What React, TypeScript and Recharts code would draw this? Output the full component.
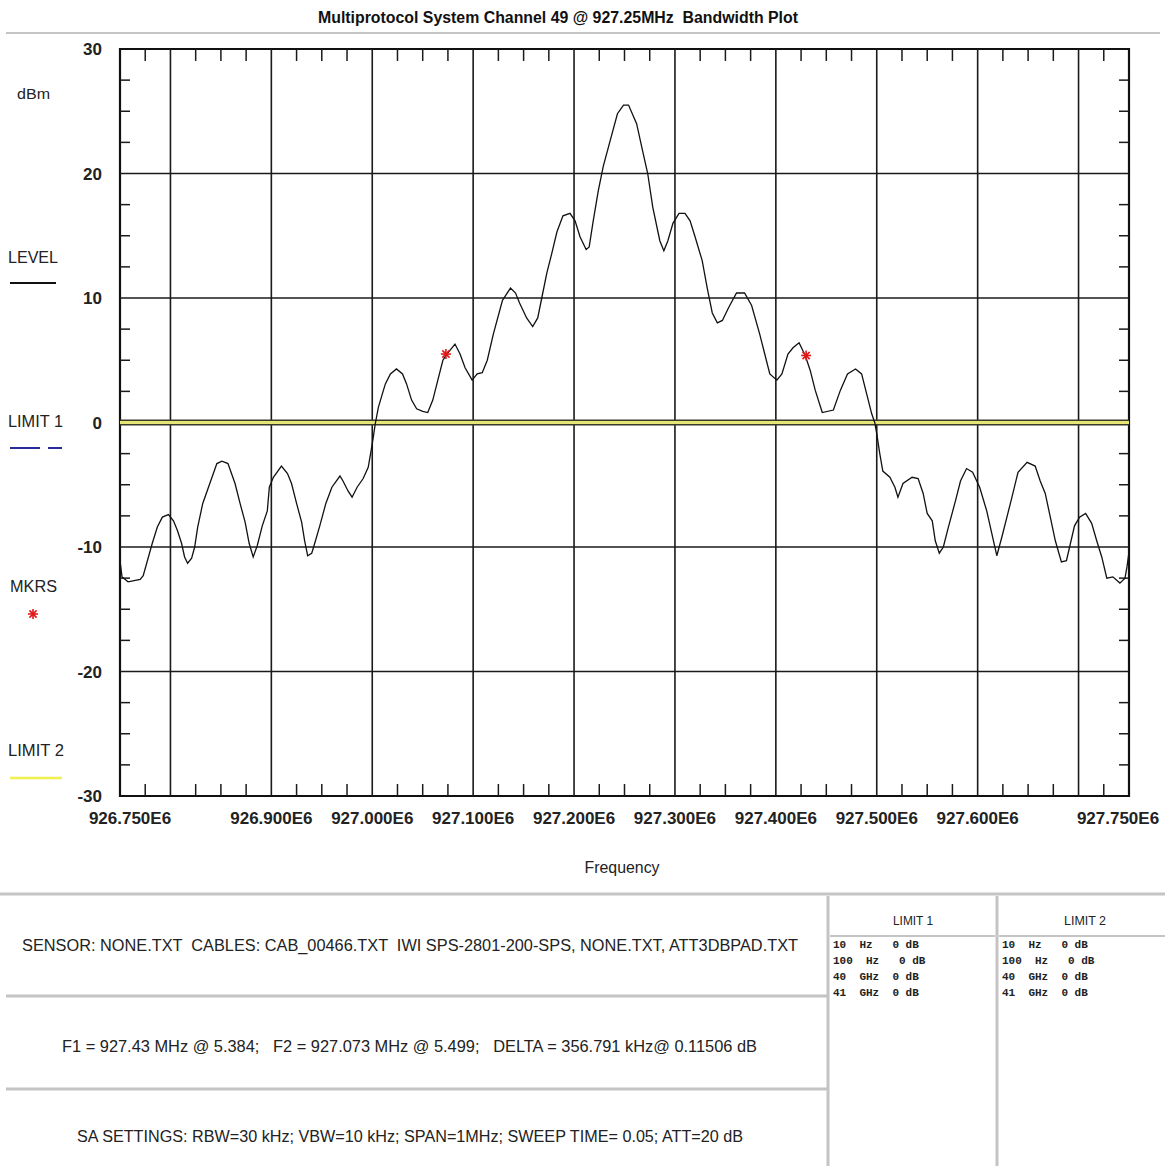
import React from "react";
import { ComposedChart, Line, XAxis, YAxis, ReferenceLine, ReferenceArea, ReferenceDot } from "recharts";

const freqMHz = [
  926.750, 926.752, 926.758, 926.770, 926.773, 926.782, 926.787, 926.792, 926.798, 926.803,
  926.807, 926.811, 926.814, 926.817, 926.821, 926.824, 926.827, 926.832, 926.839, 926.846,
  926.851, 926.857, 926.864, 926.869, 926.874, 926.878, 926.882, 926.886, 926.891, 926.896,
  926.898, 926.902, 926.910, 926.916, 926.920, 926.925, 926.930, 926.933, 926.936, 926.940,
  926.943, 926.948, 926.954, 926.960, 926.968, 926.971, 926.976, 926.980, 926.985, 926.991,
  926.996, 926.999, 927.001, 927.003, 927.006, 927.010, 927.013, 927.018, 927.024, 927.030,
  927.034, 927.039, 927.044, 927.050, 927.055, 927.060, 927.065, 927.070, 927.074, 927.082,
  927.087, 927.092, 927.099, 927.104, 927.109, 927.114, 927.120, 927.129, 927.137, 927.142,
  927.146, 927.153, 927.159, 927.164, 927.168, 927.173, 927.178, 927.183, 927.189, 927.196,
  927.201, 927.206, 927.212, 927.215, 927.219, 927.224, 927.229, 927.236, 927.243, 927.249,
  927.254, 927.262, 927.268, 927.273, 927.278, 927.285, 927.289, 927.293, 927.298, 927.304,
  927.310, 927.315, 927.320, 927.327, 927.332, 927.337, 927.342, 927.347, 927.353, 927.361,
  927.369, 927.376, 927.384, 927.389, 927.394, 927.401, 927.406, 927.412, 927.417, 927.423,
  927.429, 927.434, 927.439, 927.446, 927.457, 927.464, 927.471, 927.479, 927.485, 927.490,
  927.495, 927.498, 927.500, 927.503, 927.506, 927.513, 927.518, 927.521, 927.526, 927.535,
  927.541, 927.546, 927.550, 927.555, 927.558, 927.562, 927.566, 927.571, 927.578, 927.583,
  927.589, 927.595, 927.602, 927.609, 927.614, 927.619, 927.624, 927.629, 927.634, 927.640,
  927.649, 927.657, 927.662, 927.667, 927.672, 927.677, 927.683, 927.688, 927.692, 927.696,
  927.701, 927.707, 927.713, 927.718, 927.723, 927.728, 927.734, 927.741, 927.746, 927.748,
  927.750,
];

const levelDbm = [
  -11.1, -12.4, -12.8, -12.6, -12.3, -9.7, -8.4, -7.6, -7.4, -7.9,
  -8.7, -9.7, -10.8, -11.3, -10.9, -10.0, -8.4, -6.5, -4.9, -3.3,
  -3.1, -3.3, -4.9, -6.5, -8.0, -9.7, -10.8, -9.9, -8.3, -7.1,
  -5.2, -4.4, -3.5, -4.1, -4.9, -6.5, -8.0, -9.5, -10.7, -10.5,
  -9.7, -8.3, -6.5, -5.2, -4.3, -4.7, -5.5, -6.0, -5.2, -4.5,
  -3.6, -2.2, -1.2, -0.1, 1.2, 2.3, 3.1, 3.9, 4.3, 3.9,
  3.1, 1.8, 1.1, 0.9, 0.8, 1.8, 3.4, 5.0, 5.5, 6.3,
  5.5, 4.4, 3.4, 3.9, 4.0, 5.0, 7.1, 9.8, 10.8, 10.4,
  9.6, 8.4, 7.7, 8.4, 10.0, 12.0, 13.6, 15.3, 16.6, 16.8,
  16.2, 14.9, 13.9, 14.1, 16.2, 18.6, 20.6, 22.7, 24.8, 25.5,
  25.5, 24.0, 21.8, 20.0, 17.3, 14.6, 13.8, 14.6, 16.0, 16.8,
  16.8, 16.2, 14.9, 13.0, 10.8, 8.8, 8.0, 8.2, 9.2, 10.4,
  10.4, 9.4, 7.1, 5.5, 3.9, 3.4, 3.9, 5.5, 6.0, 6.4,
  5.4, 4.2, 2.6, 0.8, 1.0, 2.6, 3.9, 4.3, 3.9, 2.3,
  0.7, 0.0, -0.9, -2.5, -3.9, -4.4, -5.2, -6.0, -4.9, -4.4,
  -4.5, -5.7, -7.3, -7.9, -9.5, -10.5, -10.0, -8.4, -6.3, -4.7,
  -3.7, -4.0, -5.2, -7.1, -8.9, -10.7, -9.2, -7.6, -6.0, -4.0,
  -3.2, -3.5, -4.7, -5.7, -7.6, -9.5, -11.2, -11.1, -9.7, -8.3,
  -7.6, -7.3, -8.1, -9.5, -10.8, -12.5, -12.4, -12.9, -12.5, -11.6,
  -10.4,
];

const markerFreqs = [927.073, 927.43];
const markerLevels = [5.499, 5.384];

const xDomain = [926.75, 927.75];
const yDomain = [-30, 30];
const xLabelTicks = [926.75, 926.9, 927.0, 927.1, 927.2, 927.3, 927.4, 927.5, 927.6, 927.75];
const xGridLines = [926.8, 926.9, 927.0, 927.1, 927.2, 927.3, 927.4, 927.5, 927.6, 927.7];
const yLabelTicks = [-30, -20, -10, 0, 10, 20, 30];
const yGridLines = [-20, -10, 10, 20];
const xMinorTicks = [
  926.775, 926.825, 926.85, 926.875, 926.925, 926.95, 926.975, 927.025, 927.05, 927.075,
  927.125, 927.15, 927.175, 927.225, 927.25, 927.275, 927.325, 927.35, 927.375, 927.425,
  927.45, 927.475, 927.525, 927.55, 927.575, 927.625, 927.65, 927.675, 927.725,
];
const yMinorTicks = [
  -27.5, -25, -22.5, -17.5, -15, -12.5, -7.5, -5, -2.5, 2.5, 5, 7.5, 12.5, 15, 17.5, 22.5, 25, 27.5,
];
const limitRows = ["10  Hz   0 dB", "100  Hz   0 dB", "40  GHz  0 dB", "41  GHz  0 dB"];

const traceData = freqMHz.map((f, i) => ({ f, v: levelDbm[i] }));

const FONT = "'Liberation Sans', Arial, sans-serif";
const X_TICK_LEN = 0.0119; // in MHz (~12px)
const Y_TICK_LEN_X = 0.0099; // in MHz (~10px)
const X_TICK_LEN_Y = 0.96; // in dB (~12px)

const XTick = (props: any) => {
  const { x, y, payload } = props;
  const v = Number(payload.value);
  let dx = 0;
  if (Math.abs(v - xDomain[0]) < 1e-6) dx = 10;
  if (Math.abs(v - xDomain[1]) < 1e-6) dx = -11;
  return (
    <text x={x + dx} y={y + 28} textAnchor="middle" fontFamily={FONT} fontWeight="bold" fontSize={17} fill="#222">
      {v.toFixed(3) + "E6"}
    </text>
  );
};

const YTick = (props: any) => {
  const { x, y, payload } = props;
  return (
    <text x={x - 18} y={y + 6} textAnchor="end" fontFamily={FONT} fontWeight="bold" fontSize={17} fill="#222">
      {String(payload.value)}
    </text>
  );
};

const Asterisk = (props: any) => {
  const { cx, cy } = props;
  if (cx == null || cy == null) return null;
  const r = 5;
  const d = 3.6;
  return (
    <g stroke="#e01818" strokeWidth={1.6}>
      <line x1={cx - r} y1={cy} x2={cx + r} y2={cy} />
      <line x1={cx} y1={cy - r} x2={cx} y2={cy + r} />
      <line x1={cx - d} y1={cy - d} x2={cx + d} y2={cy + d} />
      <line x1={cx - d} y1={cy + d} x2={cx + d} y2={cy - d} />
    </g>
  );
};

const T = (p: any) => {
  const { x, y, children, w, size = 16, bold = false, anchor = "middle", fill = "#222", family = FONT } = p;
  return (
    <text
      x={x}
      y={y}
      textAnchor={anchor}
      fontFamily={family}
      fontSize={size}
      fontWeight={bold ? "bold" : "normal"}
      fill={fill}
      textLength={w}
      lengthAdjust={w ? "spacingAndGlyphs" : undefined}
      style={{ whiteSpace: "pre" }}
    >
      {children}
    </text>
  );
};

export default function App() {
  const sep = "#c4c4c4";
  return (
    <div style={{ position: "absolute", left: 0, top: 0, width: 1165, height: 1166, background: "#fff" }}>
      <ComposedChart
        width={1165}
        height={1166}
        data={traceData}
        margin={{ top: 49, right: 36, bottom: 340, left: 80 }}
      >
        <XAxis
          dataKey="f"
          type="number"
          domain={xDomain}
          ticks={xLabelTicks}
          interval={0}
          height={30}
          tickSize={0}
          tickMargin={0}
          tickLine={false}
          axisLine={false}
          tick={<XTick />}
          allowDataOverflow
        />
        <YAxis
          type="number"
          domain={yDomain}
          ticks={yLabelTicks}
          interval={0}
          width={40}
          tickSize={0}
          tickMargin={0}
          tickLine={false}
          axisLine={false}
          tick={<YTick />}
          allowDataOverflow
        />
        {xGridLines.map((f) => (
          <ReferenceLine key={"gx" + f} x={f} stroke="#1a1a1a" strokeWidth={1.6} />
        ))}
        {yGridLines.map((v) => (
          <ReferenceLine key={"gy" + v} y={v} stroke="#1a1a1a" strokeWidth={1.6} />
        ))}
        {xMinorTicks.map((f) => (
          <ReferenceLine
            key={"tt" + f}
            segment={[{ x: f, y: yDomain[1] }, { x: f, y: yDomain[1] - X_TICK_LEN_Y }]}
            stroke="#1a1a1a"
            strokeWidth={1.5}
          />
        ))}
        {xMinorTicks.map((f) => (
          <ReferenceLine
            key={"tb" + f}
            segment={[{ x: f, y: yDomain[0] }, { x: f, y: yDomain[0] + X_TICK_LEN_Y }]}
            stroke="#1a1a1a"
            strokeWidth={1.5}
          />
        ))}
        {yMinorTicks.map((v) => (
          <ReferenceLine
            key={"tl" + v}
            segment={[{ x: xDomain[0], y: v }, { x: xDomain[0] + Y_TICK_LEN_X, y: v }]}
            stroke="#1a1a1a"
            strokeWidth={1.5}
          />
        ))}
        {yMinorTicks.map((v) => (
          <ReferenceLine
            key={"tr" + v}
            segment={[{ x: xDomain[1] - Y_TICK_LEN_X, y: v }, { x: xDomain[1], y: v }]}
            stroke="#1a1a1a"
            strokeWidth={1.5}
          />
        ))}
        <ReferenceLine y={0} stroke="#3a3a2a" strokeWidth={6} />
        <ReferenceLine y={0} stroke="#e6e676" strokeWidth={3} />
        <ReferenceArea
          x1={xDomain[0]}
          x2={xDomain[1]}
          y1={yDomain[0]}
          y2={yDomain[1]}
          fill="none"
          fillOpacity={0}
          stroke="#111"
          strokeWidth={2.2}
        />
        <Line
          dataKey="v"
          type="linear"
          stroke="#111"
          strokeWidth={1.3}
          dot={false}
          activeDot={false}
          isAnimationActive={false}
        />
        {markerFreqs.map((f, i) => (
          <ReferenceDot key={"m" + i} x={f} y={markerLevels[i]} r={5} shape={<Asterisk />} />
        ))}
      </ComposedChart>

      <svg
        width={1165}
        height={1166}
        style={{ position: "absolute", left: 0, top: 0, pointerEvents: "none" }}
      >
        <T x={558} y={23} w={480} size={16} bold fill="#111">
          Multiprotocol System Channel 49 @ 927.25MHz  Bandwidth Plot
        </T>
        <line x1={6} y1={33} x2={1160} y2={33} stroke={sep} strokeWidth={2} />

        <T x={33.5} y={99} w={33} size={15}>dBm</T>
        <T x={33} y={263} w={50} size={16}>LEVEL</T>
        <line x1={10} y1={283} x2={56} y2={283} stroke="#111" strokeWidth={2} />
        <T x={35.5} y={427} w={55} size={16}>LIMIT 1</T>
        <line x1={10} y1={448} x2={40} y2={448} stroke="#2a2a9c" strokeWidth={2} />
        <line x1={48} y1={448} x2={62} y2={448} stroke="#2a2a9c" strokeWidth={2} />
        <T x={33.5} y={592} w={47} size={16}>MKRS</T>
        <Asterisk cx={33} cy={614} />
        <T x={36} y={756} w={56} size={16}>LIMIT 2</T>
        <line x1={10} y1={778} x2={62} y2={778} stroke="#f0f050" strokeWidth={2.5} />

        <T x={622} y={873} w={75} size={16}>Frequency</T>

        <line x1={0} y1={894} x2={1165} y2={894} stroke={sep} strokeWidth={3} />
        <line x1={6} y1={996} x2={828} y2={996} stroke={sep} strokeWidth={3} />
        <line x1={6} y1={1089} x2={828} y2={1089} stroke={sep} strokeWidth={3} />
        <line x1={828} y1={896} x2={828} y2={1166} stroke={sep} strokeWidth={3} />
        <line x1={997} y1={896} x2={997} y2={1166} stroke={sep} strokeWidth={3} />
        <line x1={830} y1={936} x2={995} y2={936} stroke={sep} strokeWidth={2} />
        <line x1={999} y1={936} x2={1165} y2={936} stroke={sep} strokeWidth={2} />

        <T x={410} y={951} w={776} size={16}>
          SENSOR: NONE.TXT  CABLES: CAB_00466.TXT  IWI SPS-2801-200-SPS, NONE.TXT, ATT3DBPAD.TXT
        </T>
        <T x={409.5} y={1052} w={695} size={16}>
          F1 = 927.43 MHz @ 5.384;   F2 = 927.073 MHz @ 5.499;   DELTA = 356.791 kHz@ 0.11506 dB
        </T>
        <T x={410} y={1142} w={666} size={16}>
          SA SETTINGS: RBW=30 kHz; VBW=10 kHz; SPAN=1MHz; SWEEP TIME= 0.05; ATT=20 dB
        </T>

        <T x={913} y={925} w={40} size={12}>LIMIT 1</T>
        <T x={1085} y={925} w={42} size={12}>LIMIT 2</T>
        {limitRows.map((r, i) => (
          <T key={"l1" + i} x={833} y={948 + i * 16} size={11} bold anchor="start" family="'Liberation Mono', 'DejaVu Sans Mono', monospace">
            {r}
          </T>
        ))}
        {limitRows.map((r, i) => (
          <T key={"l2" + i} x={1002} y={948 + i * 16} size={11} bold anchor="start" family="'Liberation Mono', 'DejaVu Sans Mono', monospace">
            {r}
          </T>
        ))}
      </svg>
    </div>
  );
}
